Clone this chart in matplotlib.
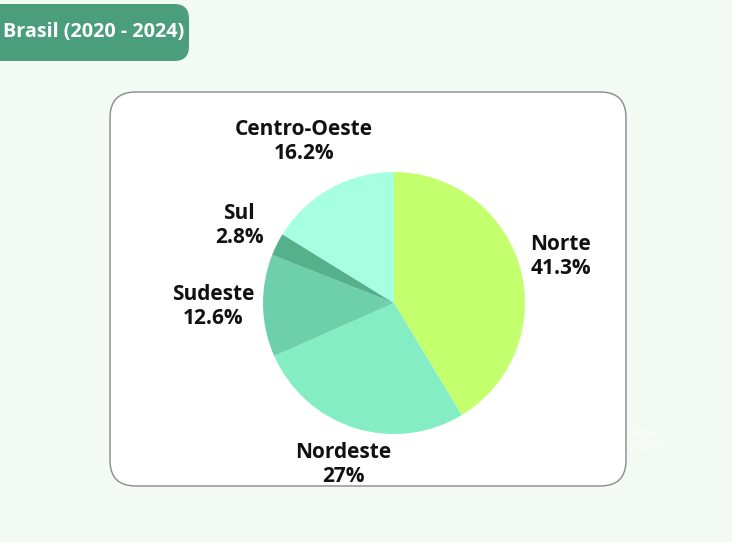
import numpy as np
import matplotlib.pyplot as plt
from matplotlib.patches import FancyBboxPatch

regions = ['Norte', 'Nordeste', 'Sudeste', 'Sul', 'Centro-Oeste']
shares = [41.3, 27.0, 12.6, 2.8, 16.2]
share_labels = ['41.3%', '27%', '12.6%', '2.8%', '16.2%']
colors = ['#C4FF6E', '#84EDC4', '#6DD0AA', '#55B08C', '#A6FFE0']
title = 'Brasil (2020 - 2024)'

# how far each label sits from the centre, in pie radii
label_dist = [1.32, 1.29, 1.38, 1.32, 1.41]

W, H = 732, 542
fig = plt.figure(figsize=(W / 100, H / 100), dpi=100)
fig.patch.set_facecolor('#F3FAF3')

def fx(px):
    return px / W

def fy(py):
    return 1 - py / H

# stray white text mostly hidden behind the card
fig.text(fx(653), fy(434), 'Lorem ipsum dolor sit amet, consectetur', color='white',
         fontsize=8, ha='right', va='center', family='Open Sans', zorder=0)
fig.text(fx(661), fy(447), 'Sed ut perspiciatis unde omnis iste purus', color='white',
         fontsize=8, ha='right', va='center', family='Open Sans', zorder=0)

# white card
card = FancyBboxPatch((fx(110), fy(486)), fx(626) - fx(110), fy(92) - fy(486),
                      boxstyle='round,pad=0,rounding_size=0.035', transform=fig.transFigure,
                      facecolor='white', edgecolor='#8a8a8a', linewidth=1.0, zorder=1,
                      mutation_aspect=W / H)
fig.patches.append(card)

# title badge
badge = FancyBboxPatch((fx(-20), fy(61)), fx(189) - fx(-20), fy(4) - fy(61),
                       boxstyle='round,pad=0,rounding_size=0.02', transform=fig.transFigure,
                       facecolor='#4B9E7C', edgecolor='none', zorder=2,
                       mutation_aspect=W / H)
fig.patches.append(badge)
fig.text(fx(3), fy(32), title, color='white', fontsize=14.2, fontweight='bold',
         family='Open Sans', ha='left', va='center', zorder=3)

cx, cy, r = 394, 303, 131
ax = fig.add_axes([fx(cx - r), fy(cy + r), (2 * r) / W, (2 * r) / H])
ax.set_zorder(3)
ax.patch.set_alpha(0)
wedges, _ = ax.pie(shares, colors=colors, startangle=90, counterclock=False,
                   wedgeprops=dict(linewidth=0))
for w, name, pct, d in zip(wedges, regions, share_labels, label_dist):
    ang = np.deg2rad((w.theta1 + w.theta2) / 2)
    ax.text(d * np.cos(ang), d * np.sin(ang), f'{name}\n{pct}', ha='center', va='center',
            fontsize=15, fontweight='bold', family='Open Sans', color='#111111',
            linespacing=1.2)
ax.set_xlim(-1, 1)
ax.set_ylim(-1, 1)
ax.set_aspect('equal')
ax.axis('off')

fig.savefig('out.png', dpi=100, facecolor=fig.get_facecolor())
